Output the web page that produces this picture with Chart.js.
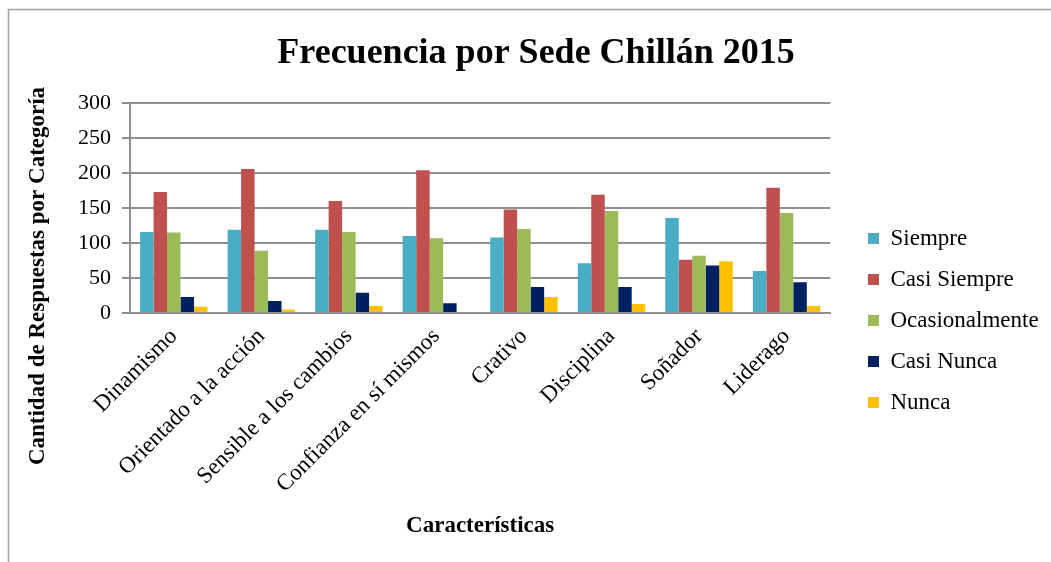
<!DOCTYPE html>
<html lang="es">
  <head>
    <meta charset="UTF-8" />
    <title>Frecuencia por Sede Chillán 2015</title>
    <script src="https://cdn.jsdelivr.net/npm/chart.js@4.4.0/dist/chart.umd.min.js"></script>
    <style>
      html, body { margin: 0; padding: 0; background: #fff; }
      #wrap { width: 1051px; height: 562px; position: relative; }
    </style>
  </head>
  <body>
    <div id="wrap"><canvas id="chart"></canvas></div>
    <script>
      // Datos
      const categorias = [
        "Dinamismo",
        "Orientado a la acción",
        "Sensible a los cambios",
        "Confianza en sí mismos",
        "Crativo",
        "Disciplina",
        "Soñador",
        "Liderago",
      ];
      const siempre = [116, 119, 119, 110, 108, 71, 136, 60];
      const casiSiempre = [173, 206, 160, 204, 148, 169, 76, 179];
      const ocasionalmente = [115, 89, 116, 107, 120, 146, 82, 143];
      const casiNunca = [23, 17, 29, 14, 37, 37, 68, 44];
      const nunca = [9, 5, 10, 0, 23, 13, 74, 10];
      const series = ["Siempre", "Casi Siempre", "Ocasionalmente", "Casi Nunca", "Nunca"];
      const colores = ["#4BACC6", "#C0504D", "#9BBB59", "#002060", "#FFC000"];

      const serif = "'Liberation Serif', 'Times New Roman', serif";
      const gris = "#8e8e8e";

      // Marco exterior, título del eje Y y posición de la leyenda
      const extras = {
        id: "extras",
        afterLayout(chart) {
          const lg = chart.legend;
          const dx = 868 - 18 - lg.left;
          const dy = 209 - lg.top;
          lg.left += dx; lg.right += dx;
          lg.top += dy; lg.bottom += dy;
        },
        beforeDraw(chart) {
          const ctx = chart.ctx;
          ctx.save();
          ctx.fillStyle = "#fff";
          ctx.fillRect(0, 0, chart.width, chart.height);
          ctx.strokeStyle = "#a0a0a0";
          ctx.lineWidth = 1.5;
          ctx.strokeRect(8.5, 9.5, chart.width + 10, chart.height + 10);
          ctx.restore();
        },
        afterDraw(chart) {
          const ctx = chart.ctx;
          ctx.save();
          ctx.translate(38, 276);
          ctx.rotate(-Math.PI / 2);
          ctx.font = "bold 23px " + serif;
          ctx.fillStyle = "#000";
          ctx.textAlign = "center";
          ctx.textBaseline = "middle";
          ctx.fillText("Cantidad de Respuestas por Categoría", 0, 0);
          ctx.restore();
        },
      };

      const datos = [siempre, casiSiempre, ocasionalmente, casiNunca, nunca];

      new Chart(document.getElementById("chart"), {
        type: "bar",
        data: {
          labels: categorias,
          datasets: series.map((nombre, i) => ({
            label: nombre,
            data: datos[i],
            backgroundColor: colores[i],
            borderWidth: 0,
            categoryPercentage: 0.77,
            barPercentage: 1.0,
          })),
        },
        options: {
          responsive: true,
          maintainAspectRatio: false,
          animation: false,
          layout: { padding: { left: 43, right: 22, top: 0, bottom: 0 } },
          plugins: {
            title: {
              display: true,
              text: "Frecuencia por Sede Chillán 2015",
              color: "#000",
              font: { family: serif, size: 36, weight: "bold" },
              padding: { top: 32, bottom: 28 },
            },
            legend: {
              position: "right",
              align: "start",
              labels: {
                color: "#000",
                font: { family: serif, size: 23 },
                boxWidth: 11,
                boxHeight: 11,
                padding: 18,
              },
            },
            tooltip: { enabled: false },
          },
          scales: {
            x: {
              afterFit(scale) { scale.height = 249; },
              grid: { display: false, drawTicks: false },
              border: { display: true, color: gris, width: 2 },
              ticks: {
                color: "#000",
                font: { family: serif, size: 23 },
                minRotation: 45,
                maxRotation: 45,
                padding: 10,
              },
              title: {
                display: true,
                text: "Características",
                color: "#000",
                font: { family: serif, size: 23, weight: "bold" },
                padding: { top: 0, bottom: 22 },
              },
            },
            y: {
              min: 0,
              max: 300,
              afterFit(scale) { scale.width = 87; },
              grid: { color: gris, lineWidth: 2, tickLength: 8 },
              border: { display: true, color: gris, width: 2 },
              ticks: {
                stepSize: 50,
                color: "#000",
                font: { family: serif, size: 22 },
                padding: 11,
              },
            },
          },
        },
        plugins: [extras],
      });
    </script>
  </body>
</html>
